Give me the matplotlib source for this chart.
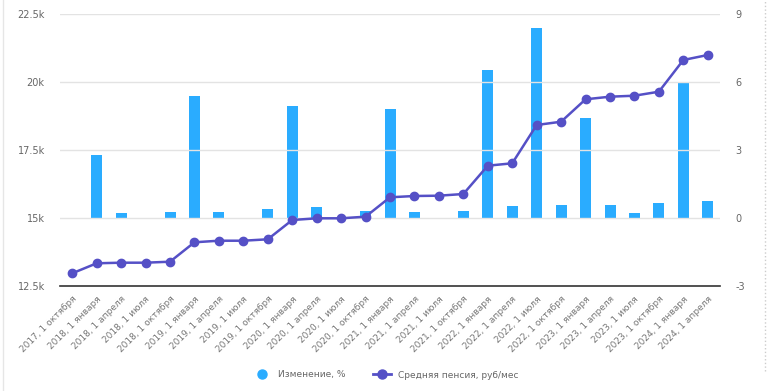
import matplotlib.pyplot as plt
import numpy as np
from matplotlib.lines import Line2D

plt.rcParams['axes.unicode_minus'] = False

# подписи по оси X
labels = ['2017, 1 октября',
          '2018, 1 января', '2018, 1 апреля', '2018, 1 июля', '2018, 1 октября',
          '2019, 1 января', '2019, 1 апреля', '2019, 1 июля', '2019, 1 октября',
          '2020, 1 января', '2020, 1 апреля', '2020, 1 июля', '2020, 1 октября',
          '2021, 1 января', '2021, 1 апреля', '2021, 1 июля', '2021, 1 октября',
          '2022, 1 января', '2022, 1 апреля', '2022, 1 июля', '2022, 1 октября',
          '2023, 1 января', '2023, 1 апреля', '2023, 1 июля', '2023, 1 октября',
          '2024, 1 января', '2024, 1 апреля']

# изменение, %
change = [0.0, 2.78, 0.23, 0.0, 0.28, 5.38, 0.28, 0.02, 0.40, 4.94, 0.47, 0.0,
          0.31, 4.81, 0.26, 0.0, 0.31, 6.51, 0.53, 8.39, 0.57, 4.40, 0.57, 0.21,
          0.66, 5.98, 0.75]

# средняя пенсия, руб/мес
pension = [12967, 13335, 13357, 13357, 13393, 14107, 14165, 14165, 14217, 14926,
           14989, 14989, 15048, 15761, 15809, 15820, 15882, 16923, 17011, 18419,
           18540, 19364, 19460, 19496, 19643, 20809, 20993]

bar_color = '#2aacff'
line_color = '#5550c6'
text_color = '#666666'

fig = plt.figure(figsize=(7.71, 3.91), dpi=100)
ax = fig.add_axes([60 / 771, 1 - 286 / 391, 660 / 771, 272 / 391])
ax2 = ax.twinx()
x = np.arange(len(labels))

# столбцы - правая ось
ax.bar(x, change, width=0.45, color=bar_color, zorder=2)
ax.set_ylim(-3, 9)
ax.set_xlim(-0.5, len(labels) - 0.5)
ax.yaxis.tick_right()
ax.set_yticks([-3, 0, 3, 6, 9])
ax.tick_params(axis='y', length=0, labelsize=7, labelcolor=text_color, pad=11)
ax.set_xticks(x)
ax.set_xticklabels(labels, rotation=45, ha='right', rotation_mode='anchor',
                   fontsize=6.5, color='#777777')
ax.tick_params(axis='x', length=0, pad=6)
for s in ['top', 'left', 'right']:
    ax.spines[s].set_visible(False)
ax.spines['bottom'].set_color('#333333')
ax.spines['bottom'].set_linewidth(1.2)

# линия - левая ось
ax2.plot(x, pension, color=line_color, lw=1.8, marker='o', markersize=6, zorder=3)
ax2.set_ylim(12500, 22500)
ax2.yaxis.tick_left()
ax2.set_yticks([12500, 15000, 17500, 20000, 22500])
ax2.set_yticklabels(['12.5k', '15k', '17.5k', '20k', '22.5k'])
ax2.tick_params(axis='y', length=0, labelsize=7, labelcolor=text_color, pad=11)
for s in ['top', 'left', 'right', 'bottom']:
    ax2.spines[s].set_visible(False)
for v in [15000, 17500, 20000, 22500]:
    ax2.axhline(v, color='#e3e3e3', lw=1, zorder=0)
ax.set_zorder(1)
ax2.set_zorder(2)
ax2.patch.set_visible(False)

# рамка контейнера
fig.add_artist(Line2D([3 / 771, 3 / 771], [0, 1], color='#e6e6e6', lw=1))
fig.add_artist(Line2D([765 / 771, 765 / 771], [0.05, 1], color='#cccccc', lw=1, ls=':'))

# легенда
handles = [Line2D([], [], ls='', marker='o', color=bar_color, markersize=6.5),
           Line2D([], [], color=line_color, lw=2, marker='o', markersize=6.5)]
fig.legend(handles, ['Изменение, %', 'Средняя пенсия, руб/мес'],
           loc='center', bbox_to_anchor=(0.5, 1 - 375 / 391), ncol=2,
           frameon=False, fontsize=6.5, labelcolor=text_color,
           handlelength=2, columnspacing=3)

fig.savefig('out.png', dpi=100)
